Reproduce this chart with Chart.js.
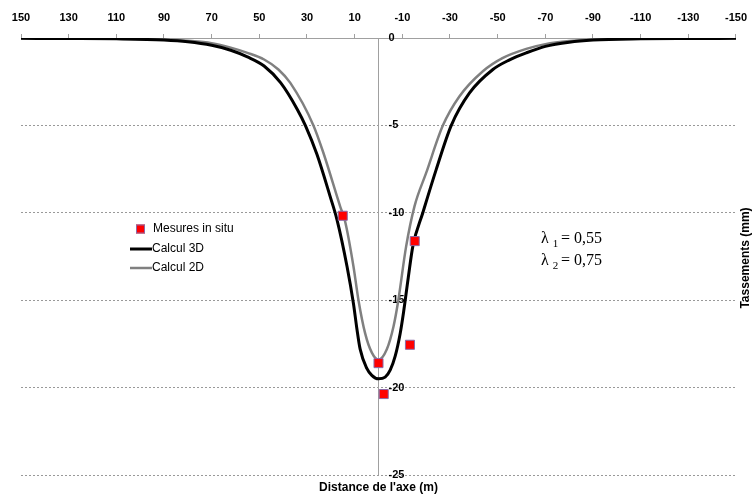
<!DOCTYPE html>
<html>
<head>
<meta charset="utf-8">
<script src="https://cdn.jsdelivr.net/npm/chart.js@4/dist/chart.umd.min.js"></script>
<style>
  html, body { margin: 0; padding: 0; background: #fff; }
  #wrap { width: 756px; height: 497px; position: relative; }
</style>
</head>
<body>
<div id="wrap"><canvas id="c" width="756" height="497"></canvas></div>
<script>
// ---- Data ----
const xTickValues = [150, 130, 110, 90, 70, 50, 30, 10, -10, -30, -50, -70, -90, -110, -130, -150];
const yTickValues = [0, -5, -10, -15, -20, -25];

const mesuresX = [15.0, -15.2, 0.0, -13.2, -2.2];
const mesuresY = [-10.17, -11.62, -18.6, -17.55, -20.37];

const calc3dX = [150, 130, 110, 90, 80, 70, 62, 55, 48, 41, 34, 30.7, 25.8, 20.3, 17.4, 13.2, 10.5, 9.1, 7.7, 4.9, 2.8, 0, -2.8, -4.9, -7, -9.1, -10.5, -12.5, -14.4, -18.6, -24.2, -30.5, -38.2, -48, -55, -62, -70, -80, -90, -110, -130, -150];
const calc3dY = [-0.02, -0.03, -0.05, -0.12, -0.22, -0.42, -0.7, -1.08, -1.6, -2.57, -4.1, -5.0, -6.67, -9.06, -10.4, -13.07, -15.2, -16.6, -17.8, -18.9, -19.3, -19.5, -19.4, -19.0, -18.2, -16.9, -15.7, -13.7, -11.92, -10.0, -7.53, -5.01, -3.14, -1.8, -1.25, -0.85, -0.48, -0.24, -0.12, -0.05, -0.03, -0.02];

const calc2dX = [150, 130, 110, 90, 80, 70, 62, 55, 48, 42, 37, 27.3, 23.1, 16.1, 14.0, 10.5, 8.4, 5.6, 2.8, 0, -3.5, -6.3, -8.2, -11.6, -15.1, -20, -27, -34, -43.8, -52, -62, -70, -80, -90, -110, -130, -150];
const calc2dY = [-0.01, -0.02, -0.04, -0.08, -0.16, -0.3, -0.55, -0.85, -1.23, -1.8, -2.57, -5.0, -6.58, -9.63, -10.5, -13.07, -15.0, -16.9, -18.0, -18.4, -17.8, -16.5, -15.1, -11.92, -9.63, -7.72, -5.01, -3.33, -1.9, -1.15, -0.62, -0.35, -0.17, -0.08, -0.04, -0.02, -0.01];

const seriesLabels = ['Mesures in situ', 'Calcul 3D', 'Calcul 2D'];
const lambdaLines = [['1', '= 0,55'], ['2', '= 0,75']];
const xTitle = "Distance de l'axe (m)";
const yTitle = 'Tassements (mm)';

const toPts = (xs, ys) => xs.map((x, i) => ({ x: x, y: ys[i] }));

const FONT = "'Liberation Sans', Arial, sans-serif";

const overlay = {
  id: 'overlay',
  beforeDatasetsDraw(chart) {
    const ctx = chart.ctx;
    const xs = chart.scales.x, ys = chart.scales.y;
    const x0 = xs.getPixelForValue(0);
    ctx.save();
    ctx.strokeStyle = '#a0a0a0';
    ctx.lineWidth = 1;
    ctx.beginPath();
    ctx.moveTo(Math.round(x0) + 0.5, ys.top);
    ctx.lineTo(Math.round(x0) + 0.5, ys.bottom);
    ctx.stroke();
    ctx.fillStyle = '#000';
    ctx.font = 'bold 11px ' + FONT;
    ctx.textAlign = 'left';
    ctx.textBaseline = 'middle';
    yTickValues.forEach(v => {
      ctx.fillText(String(v), x0 + 10, ys.getPixelForValue(v));
    });
    ctx.restore();
  },
  afterDatasetsDraw(chart) {
    const ctx = chart.ctx;
    const ds = chart.data.datasets;
    ctx.save();
    ctx.font = '12px ' + FONT;
    ctx.textBaseline = 'middle';
    ctx.textAlign = 'left';
    const lx = 130, ly = [229, 249, 268];
    ctx.fillStyle = ds[0].backgroundColor;
    ctx.strokeStyle = ds[0].borderColor;
    ctx.lineWidth = 1;
    ctx.fillRect(136, ly[0] - 4.5, 9, 9);
    ctx.strokeRect(136.5, ly[0] - 4, 8, 8);
    ctx.fillStyle = '#000';
    ctx.fillText(ds[0].label, 153, ly[0]);
    for (let i = 1; i < 3; i++) {
      ctx.strokeStyle = ds[i].borderColor;
      ctx.lineWidth = ds[i].borderWidth;
      ctx.beginPath();
      ctx.moveTo(lx, ly[i]);
      ctx.lineTo(lx + 22, ly[i]);
      ctx.stroke();
      ctx.fillStyle = '#000';
      ctx.fillText(ds[i].label, lx + 22, ly[i]);
    }
    const tx = 541;
    const tys = [239, 261];
    lambdaLines.forEach((ln, i) => {
      ctx.fillStyle = '#000';
      ctx.textBaseline = 'middle';
      ctx.font = "16px 'Liberation Serif', 'Times New Roman', serif";
      ctx.fillText('\u03bb', tx, tys[i]);
      let w = ctx.measureText('\u03bb ').width;
      ctx.font = "11px 'Liberation Serif', 'Times New Roman', serif";
      ctx.fillText(ln[0], tx + w, tys[i] + 5);
      let w2 = ctx.measureText(ln[0] + ' ').width;
      ctx.font = "16px 'Liberation Serif', 'Times New Roman', serif";
      ctx.fillText(ln[1], tx + w + w2, tys[i]);
    });
    ctx.font = 'bold 12px ' + FONT;
    ctx.textAlign = 'center';
    ctx.textBaseline = 'middle';
    ctx.fillText(xTitle, chart.scales.x.getPixelForValue(0), 488);
    ctx.save();
    ctx.translate(746, 258);
    ctx.rotate(-Math.PI / 2);
    ctx.fillText(yTitle, 0, 0);
    ctx.restore();
    ctx.restore();
  }
};

new Chart(document.getElementById('c'), {
  type: 'line',
  data: {
    datasets: [
      {
        label: seriesLabels[0],
        data: toPts(mesuresX, mesuresY),
        showLine: false,
        pointStyle: 'rect',
        pointRadius: 6.4,
        backgroundColor: '#ff0000',
        borderColor: '#8a6aa8',
        borderWidth: 1
      },
      {
        label: seriesLabels[1],
        data: toPts(calc3dX, calc3dY),
        borderColor: '#000000',
        borderWidth: 3,
        pointRadius: 0,
        fill: false,
        cubicInterpolationMode: 'monotone'
      },
      {
        label: seriesLabels[2],
        data: toPts(calc2dX, calc2dY),
        borderColor: '#808080',
        borderWidth: 2.5,
        pointRadius: 0,
        fill: false,
        cubicInterpolationMode: 'monotone'
      }
    ]
  },
  options: {
    responsive: false,
    animation: false,
    devicePixelRatio: 1,
    layout: { padding: { left: 21, right: 20, top: 0, bottom: 22 } },
    plugins: {
      legend: { display: false },
      tooltip: { enabled: false },
      title: { display: false }
    },
    scales: {
      x: {
        type: 'linear',
        position: 'top',
        reverse: true,
        min: -150,
        max: 150,
        afterBuildTicks: (s) => { s.ticks = xTickValues.map(v => ({ value: v })); },
        afterFit: (s) => { s.height = 38; },
        ticks: {
          autoSkip: false,
          maxRotation: 0,
          padding: 9,
          color: '#000',
          font: { family: FONT, size: 11, weight: 'bold' },
          callback: (v) => String(v)
        },
        grid: {
          drawOnChartArea: false,
          drawTicks: true,
          tickLength: 4,
          color: '#a0a0a0'
        },
        border: { display: true, color: '#a0a0a0', width: 1 }
      },
      y: {
        type: 'linear',
        min: -25,
        max: 0,
        afterBuildTicks: (s) => { s.ticks = yTickValues.map(v => ({ value: v })); },
        afterFit: (s) => { s.width = 0; },
        ticks: { display: false },
        grid: {
          drawTicks: false,
          color: '#999999',
          lineWidth: 1
        },
        border: { display: false, dash: [2, 2] }
      }
    }
  },
  plugins: [overlay]
});
</script>
</body>
</html>
